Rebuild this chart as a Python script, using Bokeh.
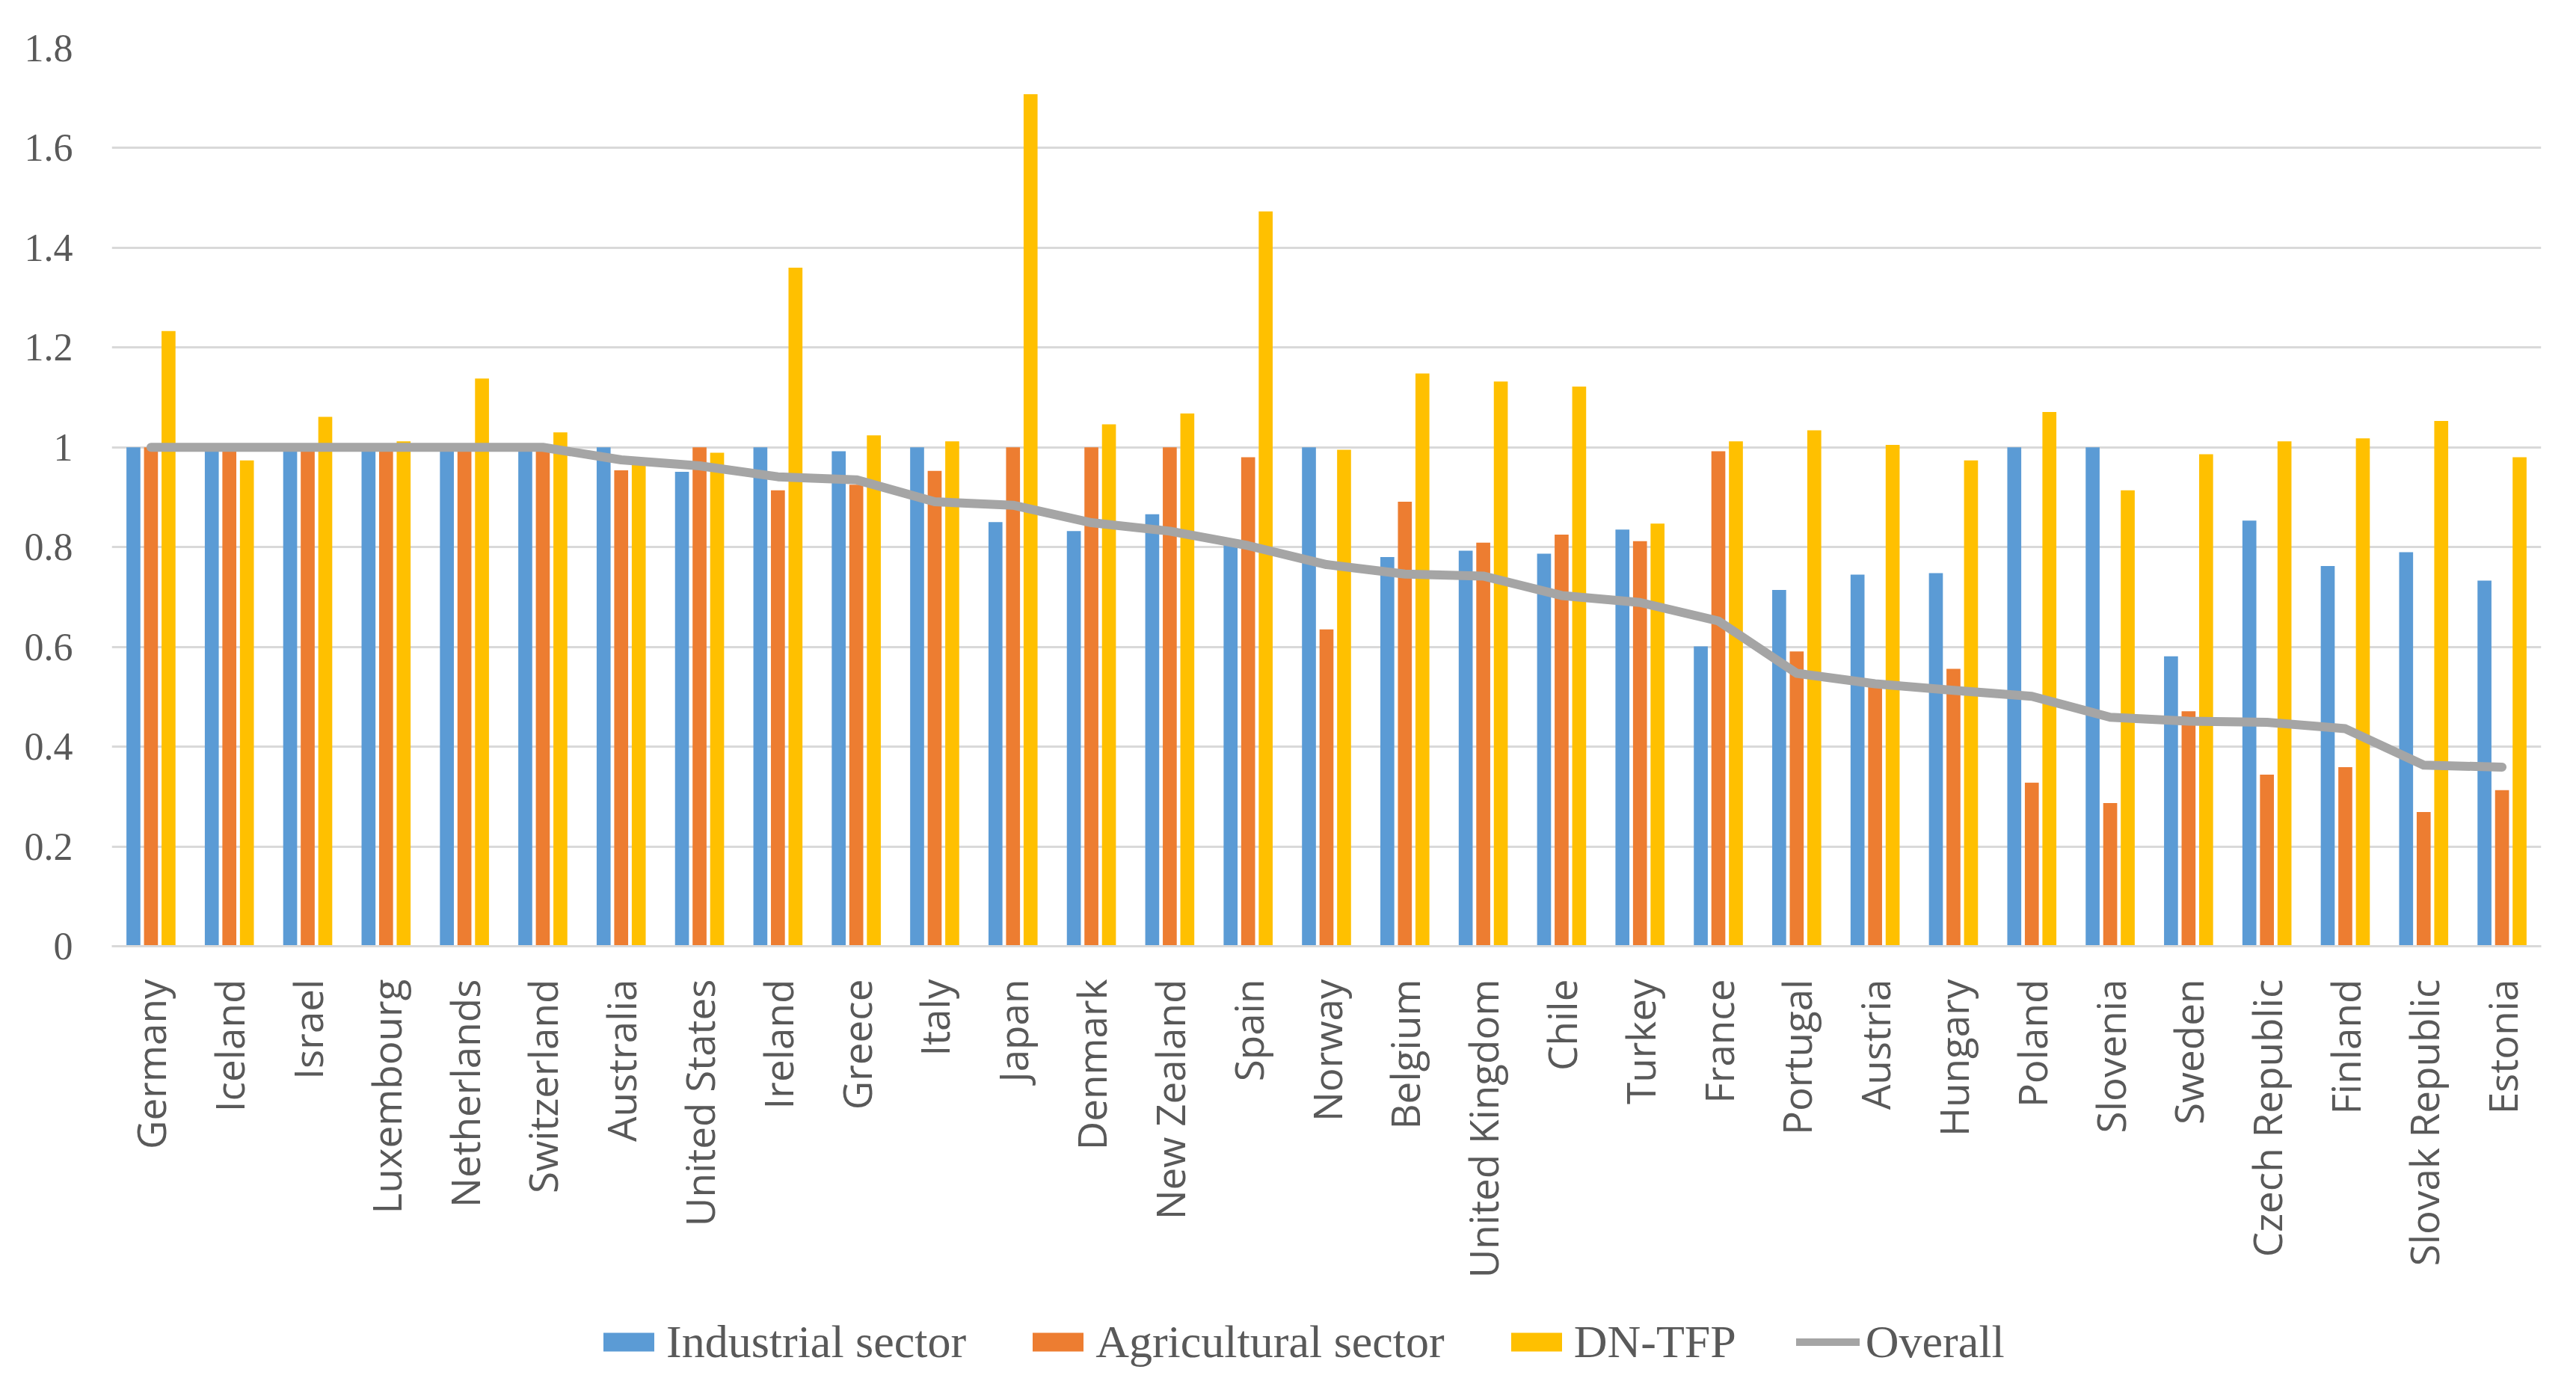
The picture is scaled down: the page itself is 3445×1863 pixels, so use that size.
from bokeh.plotting import figure
from bokeh.models import (ColumnDataSource, FactorRange, Range1d, FixedTicker,
                          CustomJSTickFormatter, Legend, LegendItem)
from bokeh.layouts import column
from bokeh.transform import dodge
from bokeh.embed import file_html
from bokeh.resources import INLINE
import math

countries = ["Germany", "Iceland", "Israel", "Luxembourg", "Netherlands", "Switzerland",
             "Australia", "United States", "Ireland", "Greece", "Italy", "Japan", "Denmark",
             "New Zealand", "Spain", "Norway", "Belgium", "United Kingdom", "Chile", "Turkey",
             "France", "Portugal", "Austria", "Hungary", "Poland", "Slovenia", "Sweden",
             "Czech Republic", "Finland", "Slovak Republic", "Estonia"]

industrial = [1.0, 1.0, 1.0, 1.0, 1.0, 1.0, 1.0, 0.951, 1.0, 0.992, 1.0, 0.850, 0.832,
              0.866, 0.807, 1.0, 0.780, 0.793, 0.787, 0.835, 0.601, 0.714, 0.745, 0.748,
              1.0, 1.0, 0.581, 0.853, 0.762, 0.790, 0.733]
agricultural = [1.0, 1.0, 1.0, 1.0, 1.0, 1.0, 0.954, 1.0, 0.914, 0.925, 0.953, 1.0, 1.0,
                1.0, 0.980, 0.635, 0.891, 0.809, 0.825, 0.812, 0.992, 0.591, 0.530, 0.556,
                0.328, 0.287, 0.471, 0.344, 0.359, 0.269, 0.313]
dntfp = [1.233, 0.974, 1.061, 1.012, 1.138, 1.030, 0.965, 0.989, 1.360, 1.024, 1.012,
         1.708, 1.046, 1.068, 1.473, 0.995, 1.148, 1.132, 1.122, 0.847, 1.012, 1.034,
         1.005, 0.974, 1.071, 0.914, 0.986, 1.012, 1.018, 1.053, 0.980]
overall = [1.0, 1.0, 1.0, 1.0, 1.0, 1.0, 0.975, 0.963, 0.941, 0.935, 0.891, 0.884, 0.849,
           0.832, 0.803, 0.765, 0.746, 0.742, 0.703, 0.689, 0.652, 0.547, 0.526, 0.513,
           0.501, 0.459, 0.451, 0.449, 0.436, 0.363, 0.359]

y_ticks = [0, 0.2, 0.4, 0.6, 0.8, 1.0, 1.2, 1.4, 1.6, 1.8]

series_names = ["Industrial sector", "Agricultural sector", "DN-TFP", "Overall"]
colors = ["#5B9BD5", "#ED7D31", "#FFC000", "#A5A5A5"]
text_color = "#595959"
grid_color = "#D9D9D9"

W = 3429
H_MAIN = 1715
H_LEG = 132

src = ColumnDataSource(data=dict(country=countries, ind=industrial, agr=agricultural,
                                 dn=dntfp, ov=overall))

p = figure(width=W, height=H_MAIN, output_backend="svg", toolbar_location=None,
           x_range=FactorRange(factors=countries), y_range=Range1d(0, 1.8),
           min_border_left=149, min_border_right=31, min_border_top=64,
           min_border_bottom=H_MAIN - 1265)
p.outline_line_color = None
p.background_fill_color = "white"

bw = 0.178
off = 0.224
bar_cols = ["ind", "agr", "dn"]
offsets = [-off, 0.0, off]
for col, o, c in zip(bar_cols, offsets, colors[:3]):
    p.vbar(x=dodge("country", o, range=p.x_range), top=col, width=bw, source=src,
           fill_color=c, line_color=None)
p.line(x="country", y="ov", source=src, line_color=colors[3], line_width=12,
       line_join="round", line_cap="round")

# y axis
p.yaxis.ticker = FixedTicker(ticks=y_ticks)
p.yaxis.formatter = CustomJSTickFormatter(code="return String(Math.round(tick*10)/10);")
p.yaxis.axis_line_color = None
p.yaxis.major_tick_line_color = None
p.yaxis.minor_tick_line_color = None
p.yaxis.major_label_text_font = "Liberation Serif"
p.yaxis.major_label_text_font_size = "52px"
p.yaxis.major_label_text_color = text_color
p.yaxis.major_label_standoff = 46

p.ygrid.ticker = FixedTicker(ticks=y_ticks)
p.ygrid.grid_line_color = grid_color
p.ygrid.grid_line_width = 3
p.xgrid.grid_line_color = None

# x axis
p.xaxis.axis_line_color = grid_color
p.xaxis.axis_line_width = 3
p.xaxis.major_tick_line_color = None
p.xaxis.minor_tick_line_color = None
p.xaxis.major_label_orientation = math.pi / 2
p.xaxis.major_label_text_font = "Open Sans"
p.xaxis.major_label_text_font_size = "53px"
p.xaxis.major_label_text_color = text_color
p.xaxis.major_label_standoff = 38

# legend strip (separate figure under the chart, no axes, data kept out of view)
lf = figure(width=W, height=H_LEG, output_backend="svg", toolbar_location=None,
            x_range=FactorRange(factors=countries), y_range=Range1d(5, 6),
            x_axis_location=None, y_axis_location=None, min_border=0)
lf.grid.visible = False
lf.outline_line_color = None
lrs = []
for col, c in zip(bar_cols, colors[:3]):
    lrs.append(lf.vbar(x="country", top=col, width=bw, source=src,
                       fill_color=c, line_color=None))
lrs.append(lf.line(x="country", y="ov", source=src, line_color=colors[3], line_width=10,
                   line_cap="round"))

legend = Legend(items=[LegendItem(label=n, renderers=[r]) for n, r in zip(series_names, lrs)],
                orientation="horizontal", location=(649, 17))
legend.glyph_width = 85
legend.glyph_height = 31
legend.label_standoff = 8
legend.spacing = 80
legend.padding = 0
legend.margin = 0
legend.border_line_color = None
legend.background_fill_alpha = 0
legend.label_text_font = "Liberation Serif"
legend.label_text_font_size = "62px"
legend.label_text_color = text_color
lf.add_layout(legend, "center")

layout = column(p, lf, spacing=0)
open("out.html", "w").write(file_html(layout, INLINE))
